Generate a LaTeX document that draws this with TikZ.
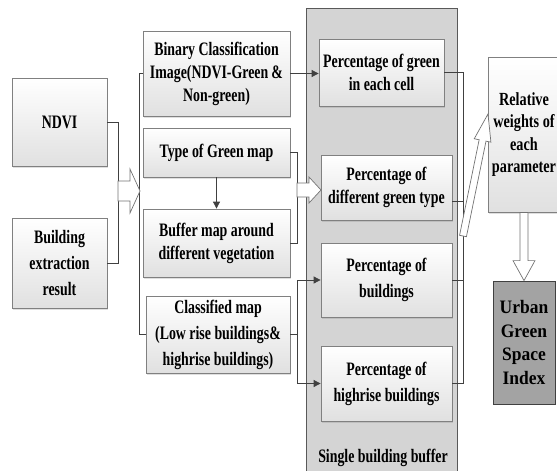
\documentclass[tikz,border=0pt]{standalone}
\usepackage{fontspec}
\setmainfont{Liberation Serif}[FakeStretch=0.73]
\newfontfamily\relfont{Liberation Serif}[FakeStretch=0.77]
\newfontfamily\urbfont{Liberation Serif}[FakeStretch=0.92]
\usetikzlibrary{calc,shadows,arrows.meta}
\tikzset{
  box/.style={draw=black!50, line width=0.8pt, top color=white, bottom color=black!12,
    drop shadow={shadow xshift=1.2pt,shadow yshift=-1.5pt,opacity=0.25},
    align=center, inner sep=0pt, font=\fontsize{19}{23}\selectfont\bfseries},
  wide/.style={font=\fontsize{19}{26}\selectfont\bfseries},
  panel/.style={draw=black!65, fill=black!17, line width=0.8pt, inner sep=0pt},
  darkbox/.style={draw=black!75, fill=black!36, line width=0.8pt, align=center, inner sep=0pt,
    font=\fontsize{19}{23.5}\selectfont\urbfont\bfseries},
  lbl/.style={align=center, inner sep=0pt, font=\fontsize{19}{23}\selectfont\bfseries},
  conn/.style={draw=black!75, line width=0.8pt},
  arr/.style={conn, -{Triangle[length=7pt,width=7pt]}},
  hollow/.style={draw=black!55, fill=white, line width=0.7pt, line join=miter},
}
% block arrow: start, tip, shaft half width, head half width, head length
\newcommand{\blockarr}[5]{%
  \coordinate (bah) at ($(#2)!#5!(#1)$);
  \draw[hollow] ($(#1)!#3!90:(#2)$) -- ($(bah)!#3!90:(#2)$) -- ($(bah)!#4!90:(#2)$)
    -- (#2) -- ($(bah)!#4!-90:(#2)$) -- ($(bah)!#3!-90:(#2)$) -- ($(#1)!#3!-90:(#2)$) -- cycle;
}
\begin{document}
\begin{tikzpicture}[x=1pt,y=-1pt]
\useasboundingbox (0,0) rectangle (557,471);

% grey panel
\node[panel, minimum width=151pt, minimum height=482pt] (panel) at (381.5,249) {};
\node[lbl] (sbb) at (383,458) {Single building buffer};

% left column
\node[box, minimum width=95pt, minimum height=88pt] (ndvi) at (59.5,122) {NDVI};
\node[box, wide, minimum width=95pt, minimum height=90pt] (build) at (59.5,263) {Building\\extraction\\result};

% middle column
\node[box, minimum width=147pt, minimum height=85pt] (binary) at (216.5,73.5)
  {Binary Classification\\Image(NDVI-Green\,\&\\Non-green)};
\node[box, minimum width=147pt, minimum height=49pt] (type) at (216.5,152.5) {Type of Green map};
\node[box, minimum width=147pt, minimum height=68pt] (buffer) at (216.5,243)
  {Buffer map around\\different vegetation};
\node[box, wide, minimum width=144pt, minimum height=77pt] (classified) at (218,334.5)
  {Classified map\\(Low rise buildings\&\\highrise buildings)};

% panel boxes
\node[box, minimum width=125pt, minimum height=67pt] (pgreen) at (381.5,72.5)
  {Percentage of green\\in each cell};
\node[box, minimum width=131pt, minimum height=65pt] (pdiff) at (386.5,187.5)
  {Percentage of\\different green type};
\node[box, wide, minimum width=131pt, minimum height=74pt] (pbuild) at (386.5,280)
  {Percentage of\\buildings};
\node[box, wide, minimum width=131pt, minimum height=75pt] (phigh) at (386.5,383.5)
  {Percentage of\\highrise buildings};

% right column
\node[box, minimum width=72pt, minimum height=155pt, font=\fontsize{18.5}{22.5}\selectfont\relfont\bfseries] (relw) at (524,134.5)
  {Relative\\weights of\\each\\parameter};
\node[darkbox, minimum width=62pt, minimum height=123pt] (urban) at (524,342.5)
  {Urban\\Green\\Space\\Index};

% connectors
\draw[conn] (ndvi.east) -- ++(11,0) coordinate (lb) |- (build.east);
\draw[conn] (binary.west) -- ++(-3,0) |- (classified.west);
\draw[arr] (binary.east) -- (binary.east -| pgreen.west);
\draw[arr] (type.south) -- (buffer.north);
\draw[conn] (type.east) -- ++(7,0) |- (buffer.east);
\draw[conn] (classified.east) -- ++(7,0) coordinate (cb);
\draw[arr] (cb) |- (pbuild.west);
\draw[arr] (cb) |- (phigh.west);
\draw[conn] (pgreen.east) -- ++(19,0) coordinate (rb) |- (phigh.east);
\draw[conn] ([yshift=-13.5pt]pdiff.east) -- ++(11,0);
\draw[conn] (pbuild.east) -- ++(11,0);

% hollow block arrows
\coordinate (a1s) at (118,191);
\coordinate (a1t) at (140,191);
\blockarr{a1s}{a1t}{10pt}{22pt}{10pt}
\coordinate (a2s) at (297,190);
\coordinate (a2t) at (321,190);
\blockarr{a2s}{a2t}{7pt}{13pt}{12pt}
\coordinate (a3s) at (463,236);
\coordinate (a3t) at (488,114);
\blockarr{a3s}{a3t}{3.5pt}{8.5pt}{27pt}
\blockarr{relw.south}{urban.north}{4pt}{11pt}{20pt}
\end{tikzpicture}
\end{document}
